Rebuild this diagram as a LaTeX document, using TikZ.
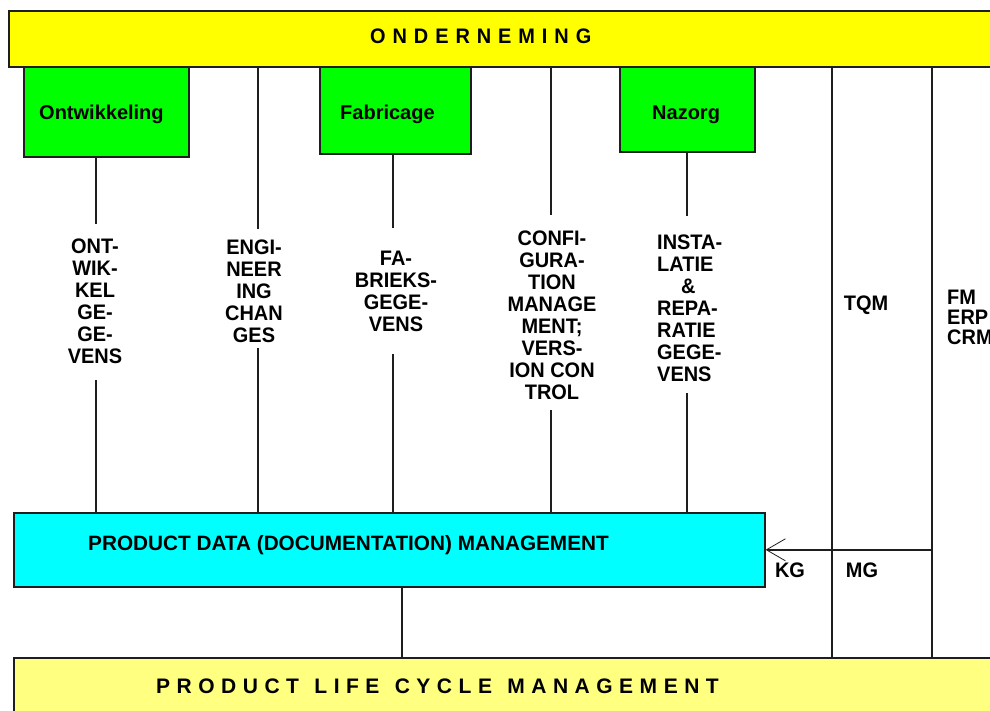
\documentclass[tikz,border=0pt]{standalone}
\usepackage{fontspec}
\setmainfont{Liberation Sans}
\newfontfamily\narrowf{Liberation Sans}[FakeStretch=0.95]
\usetikzlibrary{arrows.meta,calc}
\definecolor{barY}{HTML}{FFFF00}
\definecolor{boxG}{HTML}{00FF00}
\definecolor{boxC}{HTML}{00FFFF}
\definecolor{barLY}{HTML}{FFFF80}
\definecolor{ink}{HTML}{1E1E1E}
\begin{document}
\begin{tikzpicture}[x=1pt,y=-1pt,
  every node/.style={font=\narrowf\bfseries\fontsize{21}{22}\selectfont, text=black},
  boxs/.style={draw=ink, line width=1.6pt, inner sep=0pt, anchor=north west},
  conn/.style={draw=ink, line width=1.6pt},
  vlab/.style={inner sep=0pt, align=center, anchor=north},
  plain/.style={inner sep=0pt},
  boxtext/.style={inner sep=0pt, anchor=base west, font=\bfseries\fontsize{20}{22}\selectfont},
  widetext/.style={inner sep=0pt, anchor=base west, font=\bfseries\fontsize{20.75}{22}\selectfont},
  spacedn/.style={inner sep=0pt, anchor=base west,
    font=\narrowf\bfseries\fontsize{21}{22}\selectfont\addfontfeature{LetterSpace=33}},
  spacedw/.style={inner sep=0pt, anchor=base west,
    font=\bfseries\fontsize{21}{22}\selectfont\addfontfeature{LetterSpace=31}}
]
\useasboundingbox (0,0) rectangle (990,710);
\clip (0,0) rectangle (990,710);

% main bars and boxes
\node[boxs, fill=barY, minimum width=1000pt, minimum height=56pt] (ond) at (8,10) {};
\node[spacedn] (ondt) at (370,43) {ONDERNEMING};

\node[boxs, fill=boxG, minimum width=165pt, minimum height=90pt] (ontw) at (23,66) {};
\node[boxtext] (ontwt) at (39,119) {Ontwikkeling};
\node[boxs, fill=boxG, minimum width=151pt, minimum height=87pt] (fabr) at (319,66) {};
\node[boxtext] (fabrt) at (340,119) {Fabricage};
\node[boxs, fill=boxG, minimum width=135pt, minimum height=85pt] (naz) at (619,66) {};
\node[boxtext] (nazt) at (652,119) {Nazorg};

\node[boxs, fill=boxC, minimum width=751pt, minimum height=74pt] (pdm) at (13,512) {};
\node[widetext] (pdmt) at (88,550) {PRODUCT DATA (DOCUMENTATION) MANAGEMENT};

\node[boxs, fill=barLY, minimum width=1000pt, minimum height=80pt] (plm) at (13,657) {};
\node[spacedw] (plmt) at (156,693) {PRODUCT\hspace*{3pt} LIFE\hspace*{3pt} CYCLE\hspace*{3pt} MANAGEMENT};

% line positions
\coordinate (c1) at (96,0);
\coordinate (c2) at (258,0);
\coordinate (c3) at (393,0);
\coordinate (c4) at (551,0);
\coordinate (c5) at (687,0);
\coordinate (c6) at (832,0);
\coordinate (c7) at (932,0);
\coordinate (c8) at (402,0);

% vertical labels
\node[vlab] (ontl) at (95,239) {ONT-\\WIK-\\KEL\\GE-\\GE-\\VENS};
\node[vlab] (engl) at (254,240) {ENGI-\\NEER\\ING\\CHAN\\GES};
\node[vlab] (fabl) at (396,251) {FA-\\BRIEKS-\\GEGE-\\VENS};
\node[vlab] (conl) at (552,231) {CONFI-\\GURA-\\TION\\MANAGE\\MENT;\\VERS-\\ION CON\\TROL};
\node[vlab, align=left, anchor=north west] (insl) at (657,235) {INSTA-\\LATIE\\\hspace*{24pt}\&\\REPA-\\RATIE\\GEGE-\\VENS};

\node[plain, anchor=base] (tqm) at (866,310) {TQM};
\node[plain, anchor=north west, align=left, font=\narrowf\bfseries\fontsize{21}{20}\selectfont] (fm) at (947,290) {FM\\ERP\\CRM};
\node[plain, anchor=base] (kg) at (790,577) {KG};
\node[plain, anchor=base] (mg) at (862,577) {MG};

% connectors
\draw[conn] (ontw.south -| c1) -- ($(ontl.north -| c1)+(0,-15)$);
\draw[conn] ($(ontl.south -| c1)+(0,16)$) -- (pdm.north -| c1);
\draw[conn] (ond.south -| c2) -- ($(engl.north -| c2)+(0,-11)$);
\draw[conn] ($(engl.south -| c2)+(0,5)$) -- (pdm.north -| c2);
\draw[conn] (fabr.south -| c3) -- ($(fabl.north -| c3)+(0,-23)$);
\draw[conn] ($(fabl.south -| c3)+(0,22)$) -- (pdm.north -| c3);
\draw[conn] (ond.south -| c4) -- ($(conl.north -| c4)+(0,-16)$);
\draw[conn] ($(conl.south -| c4)+(0,10)$) -- (pdm.north -| c4);
\draw[conn] (naz.south -| c5) -- ($(insl.north -| c5)+(0,-19)$);
\draw[conn] ($(insl.south -| c5)+(0,11)$) -- (pdm.north -| c5);
\draw[conn] (ond.south -| c6) -- (plm.north -| c6);
\draw[conn] (ond.south -| c7) -- (plm.north -| c7);
\draw[conn] (pdm.south -| c8) -- (plm.north -| c8);
\draw[conn, -{Straight Barb[length=19pt,width=22pt,line width=0.8pt]}] (pdm.east -| c7) -- (pdm.east);
\end{tikzpicture}
\end{document}
